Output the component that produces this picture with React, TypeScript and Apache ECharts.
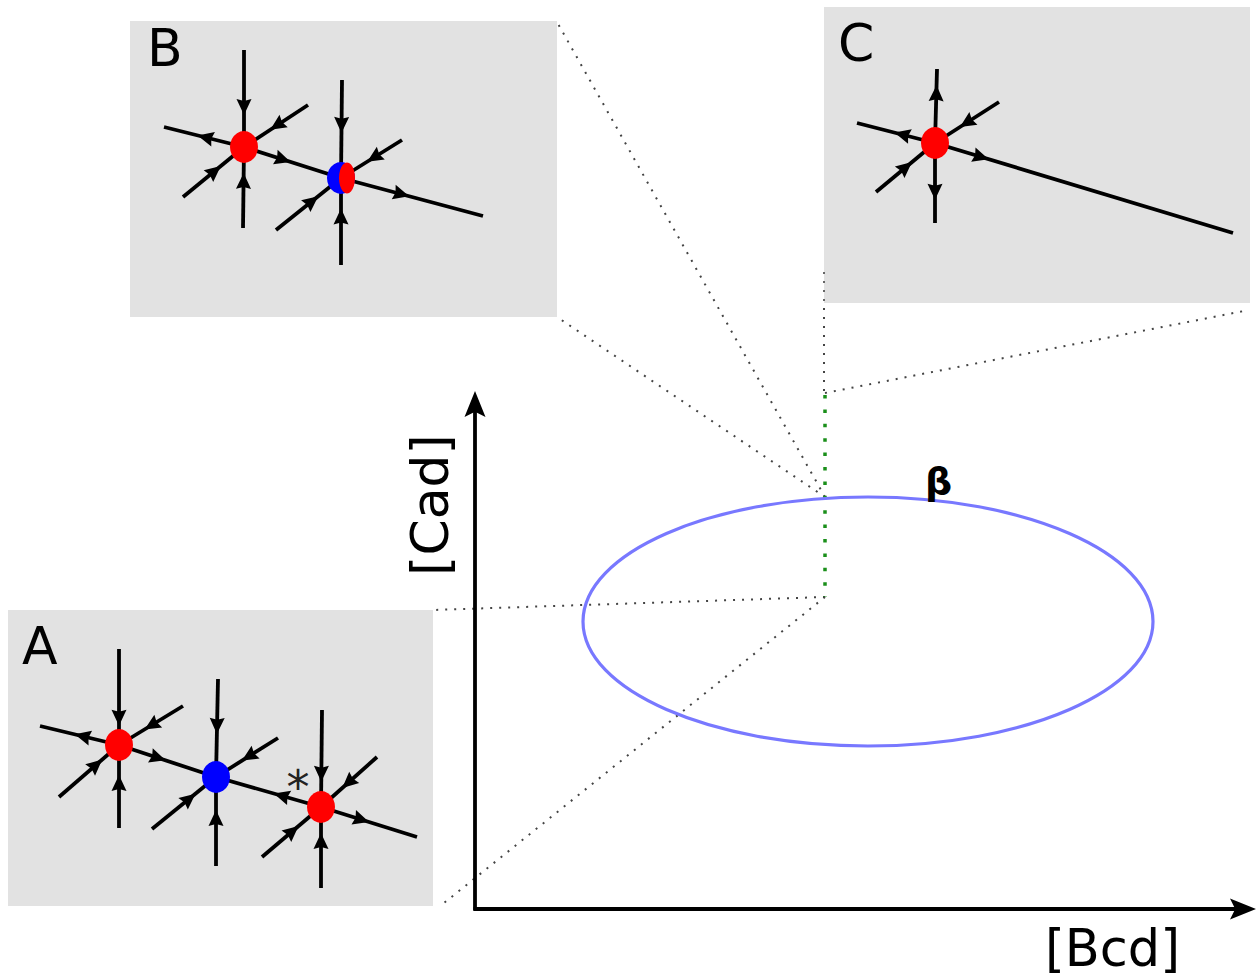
import React, { useEffect, useRef } from "react";
import * as echarts from "echarts";

// ---- Diagram data (coordinates in diagram units) ----
// Inset panels: [x0, y0, x1, y1]
const panels = [
  [8, 610, 433, 906],
  [130, 21, 557, 317],
  [824, 7, 1250, 303],
];
const panelLetters = ["A", "B", "C"];

// Dotted guide lines from the β curve to the panels: [x1, y1, x2, y2]
const dottedGuides = [
  [825, 597, 433, 610],
  [825, 597, 444, 903],
  [825, 497, 557, 22],
  [825, 497, 557, 317],
  [825, 393, 1244, 311],
  [824, 272, 824, 393],
];
const greenGuide = [[825, 395, 825, 597]];

// Limit-cycle ellipse: [cx, cy, rx, ry]
const cycle = [[868, 621.5, 285, 124.5]];

// Main axes: [x1, y1, x2, y2] (arrow at the end)
const axesLines = [
  [475, 909, 475, 391],
  [475, 909, 1256, 909],
];
const axisNames = ["[Bcd]", "[Cad]"];

// Phase-portrait trajectories, oriented along the flow: [x1, y1, x2, y2, arrowTipFraction]
const flowA = [
  [119, 745, 40, 726, 0.56],
  [119, 745, 216, 777, 0.48],
  [119, 649, 119, 745, 0.8],
  [119, 828, 119, 745, 0.64],
  [59, 797, 119, 745, 0.72],
  [183, 706, 119, 745, 0.6],
  [218, 679, 216, 777, 0.56],
  [216, 866, 216, 777, 0.63],
  [152, 829, 216, 777, 0.68],
  [278, 738, 216, 777, 0.58],
  [321, 807, 216, 777, 0.45],
  [321, 807, 417, 837, 0.5],
  [322, 710, 321, 807, 0.74],
  [321, 888, 321, 807, 0.68],
  [262, 857, 321, 807, 0.62],
  [377, 757, 321, 807, 0.62],
];
const flowB = [
  [244, 147, 164, 127, 0.58],
  [244, 147, 341, 178, 0.48],
  [244, 50, 244, 147, 0.67],
  [243, 228, 244, 147, 0.68],
  [183, 197, 244, 147, 0.62],
  [308, 105, 244, 147, 0.59],
  [341, 178, 483, 216, 0.48],
  [342, 80, 341, 178, 0.54],
  [341, 265, 341, 178, 0.65],
  [276, 230, 341, 178, 0.65],
  [402, 140, 341, 178, 0.57],
];
const flowC = [
  [935, 143, 857, 123, 0.52],
  [935, 143, 1233, 233, 0.18],
  [935, 143, 937, 69, 0.78],
  [935, 143, 935, 223, 0.71],
  [876, 192, 935, 143, 0.61],
  [999, 102, 935, 143, 0.61],
];

// Fixed points: [x, y, kind]
const fixedPoints = [
  [119, 745, "saddle"],
  [216, 777, "stable"],
  [321, 807, "saddle"],
  [244, 147, "saddle"],
  [341, 178, "stable"],
  [347, 178, "halfSaddle"],
  [935, 143, "saddle"],
];

const W = 1257;
const H = 979;

function arrowPolygon(tip: number[], ux: number, uy: number, L: number, hw: number, notchF: number) {
  const base = [tip[0] - ux * L, tip[1] - uy * L];
  const notch = [tip[0] - ux * L * notchF, tip[1] - uy * L * notchF];
  return [
    tip,
    [base[0] - uy * hw, base[1] + ux * hw],
    notch,
    [base[0] + uy * hw, base[1] - ux * hw],
  ];
}

export default function App() {
  const ref = useRef<HTMLDivElement>(null);

  useEffect(() => {
    document.body.style.margin = "0";
    document.body.style.overflow = "hidden";
    if (!ref.current) return;
    const chart = echarts.init(ref.current, null, { renderer: "svg" });

    const flowRender = (params: any, api: any) => {
      const p1 = api.coord([api.value(0), api.value(1)]);
      const p2 = api.coord([api.value(2), api.value(3)]);
      const t = api.value(4);
      const dx = p2[0] - p1[0];
      const dy = p2[1] - p1[1];
      const len = Math.hypot(dx, dy) || 1;
      const ux = dx / len;
      const uy = dy / len;
      const tip = [p1[0] + dx * t, p1[1] + dy * t];
      return {
        type: "group",
        children: [
          {
            type: "line",
            shape: { x1: p1[0], y1: p1[1], x2: p2[0], y2: p2[1] },
            style: { stroke: "#000", lineWidth: 3.8 },
          },
          {
            type: "polygon",
            shape: { points: arrowPolygon(tip, ux, uy, 16, 7.5, 0.88) },
            style: { fill: "#000" },
          },
        ],
      };
    };

    const flowSeries = (data: number[][]) => ({
      type: "custom",
      coordinateSystem: "cartesian2d",
      renderItem: flowRender,
      data,
      silent: true,
    });

    const nodeColor: Record<string, string> = {
      saddle: "#ff0000",
      stable: "#0000ff",
      halfSaddle: "#ff0000",
    };

    const textZ = 100;

    const option: any = {
      animation: false,
      backgroundColor: "#ffffff",
      grid: { left: 0, right: 0, top: 0, bottom: 0 },
      xAxis: { type: "value", min: 0, max: W, show: false },
      yAxis: { type: "value", min: 0, max: H, inverse: true, show: false },
      series: [
        {
          type: "custom",
          coordinateSystem: "cartesian2d",
          silent: true,
          data: dottedGuides,
          renderItem: (params: any, api: any) => {
            const p1 = api.coord([api.value(0), api.value(1)]);
            const p2 = api.coord([api.value(2), api.value(3)]);
            return {
              type: "line",
              shape: { x1: p1[0], y1: p1[1], x2: p2[0], y2: p2[1] },
              style: { stroke: "#444", lineWidth: 2, lineDash: [2, 7] },
            };
          },
        },
        {
          type: "custom",
          coordinateSystem: "cartesian2d",
          silent: true,
          data: panels,
          renderItem: (params: any, api: any) => {
            const p1 = api.coord([api.value(0), api.value(1)]);
            const p2 = api.coord([api.value(2), api.value(3)]);
            return {
              type: "rect",
              shape: { x: p1[0], y: p1[1], width: p2[0] - p1[0], height: p2[1] - p1[1] },
              style: { fill: "#e2e2e2" },
            };
          },
        },
        {
          type: "custom",
          coordinateSystem: "cartesian2d",
          silent: true,
          data: [[824, 272, 824, 303]],
          renderItem: (params: any, api: any) => {
            const p1 = api.coord([api.value(0), api.value(1)]);
            const p2 = api.coord([api.value(2), api.value(3)]);
            return {
              type: "line",
              shape: { x1: p1[0], y1: p1[1], x2: p2[0], y2: p2[1] },
              style: { stroke: "#666", lineWidth: 2, lineDash: [2, 7] },
            };
          },
        },
        {
          type: "custom",
          coordinateSystem: "cartesian2d",
          silent: true,
          data: greenGuide,
          renderItem: (params: any, api: any) => {
            const p1 = api.coord([api.value(0), api.value(1)]);
            const p2 = api.coord([api.value(2), api.value(3)]);
            return {
              type: "line",
              shape: { x1: p1[0], y1: p1[1], x2: p2[0], y2: p2[1] },
              style: { stroke: "#1a8f1a", lineWidth: 3.5, lineDash: [3.5, 10.9] },
            };
          },
        },
        {
          type: "custom",
          coordinateSystem: "cartesian2d",
          silent: true,
          data: cycle,
          renderItem: (params: any, api: any) => {
            const c = api.coord([api.value(0), api.value(1)]);
            const e = api.coord([api.value(0) + api.value(2), api.value(1) + api.value(3)]);
            return {
              type: "ellipse",
              shape: { cx: c[0], cy: c[1], rx: Math.abs(e[0] - c[0]), ry: Math.abs(e[1] - c[1]) },
              style: { fill: "none", stroke: "#7878ff", lineWidth: 3.2 },
            };
          },
        },
        {
          type: "custom",
          coordinateSystem: "cartesian2d",
          silent: true,
          data: axesLines,
          renderItem: (params: any, api: any) => {
            const p1 = api.coord([api.value(0), api.value(1)]);
            const p2 = api.coord([api.value(2), api.value(3)]);
            const dx = p2[0] - p1[0];
            const dy = p2[1] - p1[1];
            const len = Math.hypot(dx, dy) || 1;
            const ux = dx / len;
            const uy = dy / len;
            const end = [p2[0] - ux * 20, p2[1] - uy * 20];
            return {
              type: "group",
              children: [
                {
                  type: "line",
                  shape: { x1: p1[0] - ux * 1.5, y1: p1[1] - uy * 1.5, x2: end[0], y2: end[1] },
                  style: { stroke: "#000", lineWidth: 3.8 },
                },
                {
                  type: "polygon",
                  shape: { points: arrowPolygon(p2, ux, uy, 26, 10.5, 0.8) },
                  style: { fill: "#000" },
                },
              ],
            };
          },
        },
        flowSeries(flowA),
        flowSeries(flowB),
        flowSeries(flowC),
        {
          type: "scatter",
          silent: true,
          symbol: "circle",
          z: 5,
          data: fixedPoints.map((p) => ({
            value: [p[0], p[1]],
            symbolSize: p[2] === "halfSaddle" ? [16, 31] : [28, 32],
            itemStyle: { color: nodeColor[p[2] as string], opacity: 1 },
          })),
        },
      ],
      graphic: [
        ...panelLetters.map((letter, i) => ({
          type: "text",
          z: textZ,
          left: [22, 147, 838][i],
          top: [620, 22, 17][i],
          style: {
            text: letter,
            font: "52px 'DejaVu Sans'",
            fill: "#000",
          },
        })),
        {
          type: "text",
          z: textZ,
          x: 298,
          y: 787,
          style: {
            text: "*",
            font: "46px 'DejaVu Sans'",
            fill: "#222",
            align: "center",
            verticalAlign: "middle",
          },
        },
        {
          type: "text",
          z: textZ,
          x: 938.5,
          y: 481,
          style: {
            text: "β",
            font: "bold 38px 'DejaVu Sans'",
            fill: "#000",
            align: "center",
            verticalAlign: "middle",
          },
        },
        {
          type: "text",
          z: textZ,
          x: 1112.5,
          y: 948,
          style: {
            text: axisNames[0],
            font: "51px 'DejaVu Sans'",
            fill: "#000",
            align: "center",
            verticalAlign: "middle",
          },
        },
        {
          type: "text",
          z: textZ,
          x: 430,
          y: 505,
          rotation: Math.PI / 2,
          style: {
            text: axisNames[1],
            font: "52px 'DejaVu Sans'",
            fill: "#000",
            align: "center",
            verticalAlign: "middle",
          },
        },
      ],
    };

    chart.setOption(option);
    return () => chart.dispose();
  }, []);

  return <div ref={ref} style={{ width: W, height: H }} />;
}
